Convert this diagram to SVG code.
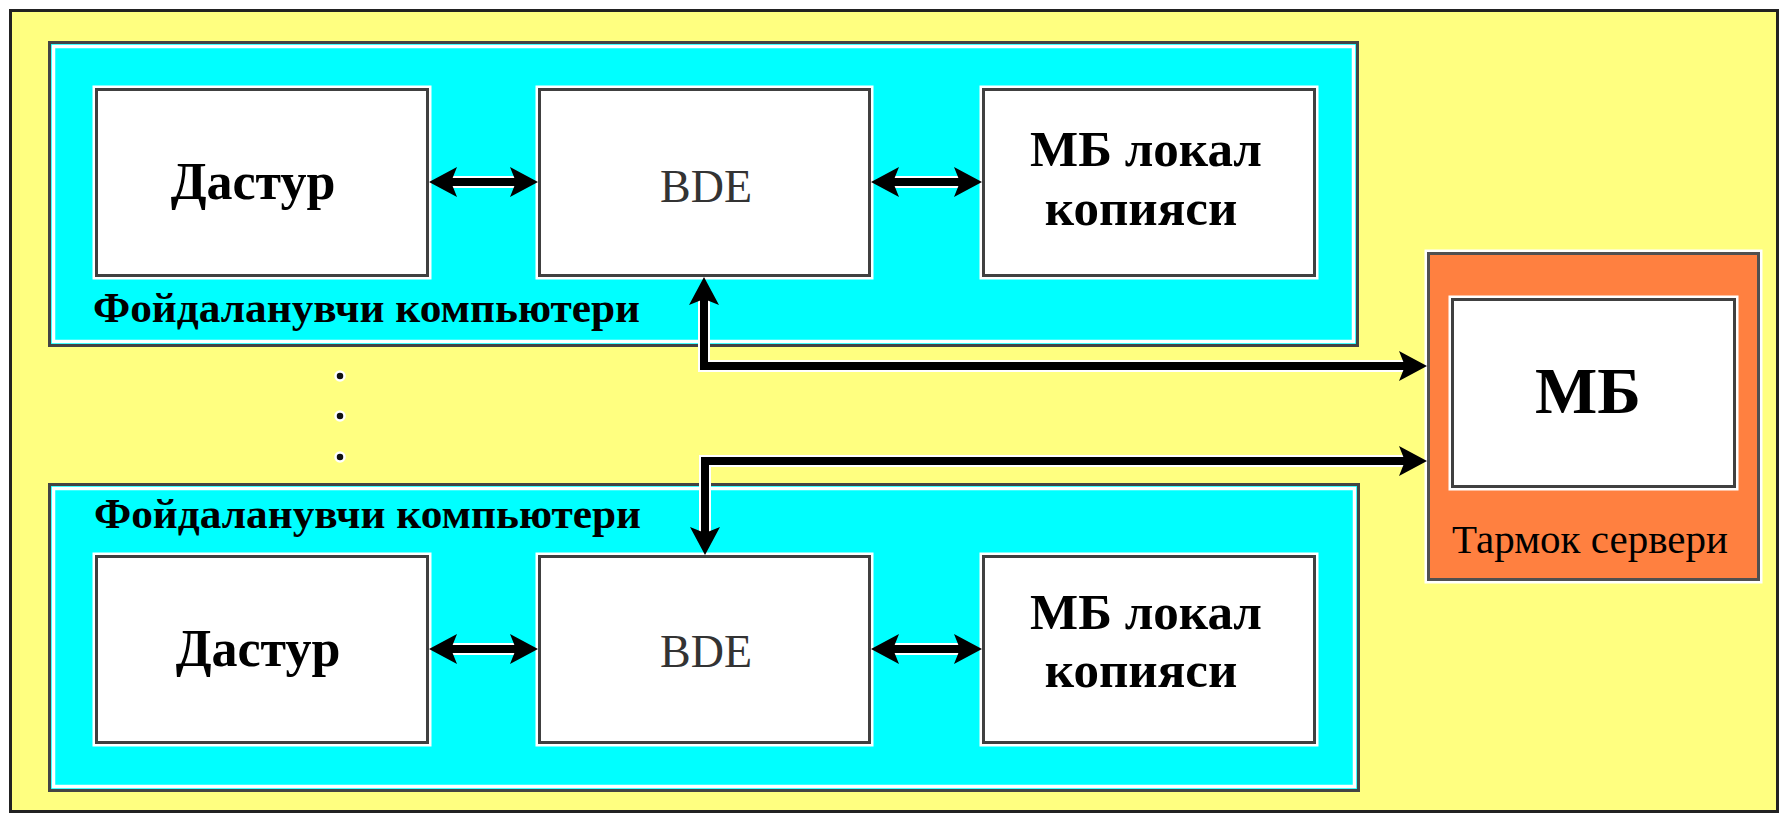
<svg xmlns="http://www.w3.org/2000/svg" width="1787" height="815" viewBox="0 0 1787 815">
  <defs>
    <style>
      .bg { fill: #FFFF80; stroke: #222; stroke-width: 3; }
      .cont { fill: #00FFFF; stroke: #444; stroke-width: 3; }
      .contin { fill: none; stroke: #fff; stroke-width: 3.5; }
      .halo { fill: none; stroke: #fff; stroke-width: 8; }
      .box { fill: #fff; stroke: #404040; stroke-width: 3; }
      .srv { fill: #FF8040; stroke: #505050; stroke-width: 3; }
      .t { font-family: "Liberation Serif", "Times New Roman", serif; fill: #000; }
      .b { font-weight: bold; }
      .bde { font-family: "Liberation Serif", "Times New Roman", serif; fill: #333; font-size: 46px; }
      .ln { fill: none; stroke: #000; stroke-width: 8; stroke-linejoin: miter; }
      .lnh { fill: none; stroke: #fff; stroke-width: 12; stroke-linejoin: miter; }
      .dot { fill: #111; stroke: #fff; stroke-width: 2.5; }
    </style>
    <marker id="ah" viewBox="0 0 28 32" refX="8" refY="16" markerWidth="28" markerHeight="32" markerUnits="userSpaceOnUse" orient="auto-start-reverse">
      <path d="M0,1 L28,16 L0,31 L6,16 z" fill="#000"/>
    </marker>
  </defs>

  <g id="background">
    <rect class="bg" x="10.5" y="10.5" width="1767" height="801"/>
  </g>

  <g id="user-pc-1">
    <rect class="cont" x="49.5" y="42.5" width="1308" height="303"/>
    <rect class="contin" x="53.5" y="46.5" width="1300" height="295"/>
    <text class="t b" x="93" y="322" font-size="42" textLength="547" lengthAdjust="spacingAndGlyphs">Фойдаланувчи компьютери</text>
  </g>

  <g id="user-pc-2">
    <rect class="cont" x="49.5" y="484.5" width="1309" height="306"/>
    <rect class="contin" x="53.5" y="488.5" width="1301" height="298"/>
    <text class="t b" x="94" y="528" font-size="42" textLength="547" lengthAdjust="spacingAndGlyphs">Фойдаланувчи компьютери</text>
  </g>

  <g id="dastur-1">
    <rect class="halo" x="96.5" y="89.5" width="331" height="186"/>
    <rect class="box" x="96.5" y="89.5" width="331" height="186"/>
    <text class="t b" x="253" y="199" font-size="52" text-anchor="middle">Дастур</text>
  </g>
  <g id="bde-1">
    <rect class="halo" x="539.5" y="89.5" width="330" height="186"/>
    <rect class="box" x="539.5" y="89.5" width="330" height="186"/>
    <text class="bde" x="706" y="202" text-anchor="middle">BDE</text>
  </g>
  <g id="mb-local-1">
    <rect class="halo" x="983.5" y="89.5" width="331" height="186"/>
    <rect class="box" x="983.5" y="89.5" width="331" height="186"/>
    <text class="t b" x="1146" y="166" font-size="51" text-anchor="middle">МБ локал</text>
    <text class="t b" x="1141" y="225" font-size="51" text-anchor="middle">копияси</text>
  </g>

  <g id="dastur-2">
    <rect class="halo" x="96.5" y="556.5" width="331" height="186"/>
    <rect class="box" x="96.5" y="556.5" width="331" height="186"/>
    <text class="t b" x="258" y="666" font-size="52" text-anchor="middle">Дастур</text>
  </g>
  <g id="bde-2">
    <rect class="halo" x="539.5" y="556.5" width="330" height="186"/>
    <rect class="box" x="539.5" y="556.5" width="330" height="186"/>
    <text class="bde" x="706" y="667" text-anchor="middle">BDE</text>
  </g>
  <g id="mb-local-2">
    <rect class="halo" x="983.5" y="556.5" width="331" height="186"/>
    <rect class="box" x="983.5" y="556.5" width="331" height="186"/>
    <text class="t b" x="1146" y="629" font-size="51" text-anchor="middle">МБ локал</text>
    <text class="t b" x="1141" y="687" font-size="51" text-anchor="middle">копияси</text>
  </g>

  <g id="server">
    <rect class="halo" x="1428.5" y="253.5" width="330" height="326"/>
    <rect class="srv" x="1428.5" y="253.5" width="330" height="326"/>
    <rect class="halo" x="1452.5" y="299.5" width="282" height="187"/>
    <rect class="box" x="1452.5" y="299.5" width="282" height="187"/>
    <text class="t b" x="1588" y="413" font-size="66" text-anchor="middle">МБ</text>
    <text class="t" x="1590" y="553" font-size="41" text-anchor="middle">Тармок сервери</text>
  </g>

  <g id="dots">
    <circle class="dot" cx="340" cy="376" r="4.5"/>
    <circle class="dot" cx="340" cy="416" r="4.5"/>
    <circle class="dot" cx="340" cy="457" r="4.5"/>
  </g>

  <g id="connectors">
    <path class="lnh" d="M449,182 L518,182"/>
    <path class="ln" d="M449,182 L518,182" marker-start="url(#ah)" marker-end="url(#ah)"/>
    <path class="lnh" d="M891,182 L962,182"/>
    <path class="ln" d="M891,182 L962,182" marker-start="url(#ah)" marker-end="url(#ah)"/>
    <path class="lnh" d="M449,649 L518,649"/>
    <path class="ln" d="M449,649 L518,649" marker-start="url(#ah)" marker-end="url(#ah)"/>
    <path class="lnh" d="M891,649 L962,649"/>
    <path class="ln" d="M891,649 L962,649" marker-start="url(#ah)" marker-end="url(#ah)"/>
    <path class="lnh" d="M704,297 L704,366 L1407,366"/>
    <path class="ln" d="M704,297 L704,366 L1407,366" marker-start="url(#ah)" marker-end="url(#ah)"/>
    <path class="lnh" d="M1407,461 L705,461 L705,535"/>
    <path class="ln" d="M1407,461 L705,461 L705,535" marker-start="url(#ah)" marker-end="url(#ah)"/>
  </g>
</svg>
